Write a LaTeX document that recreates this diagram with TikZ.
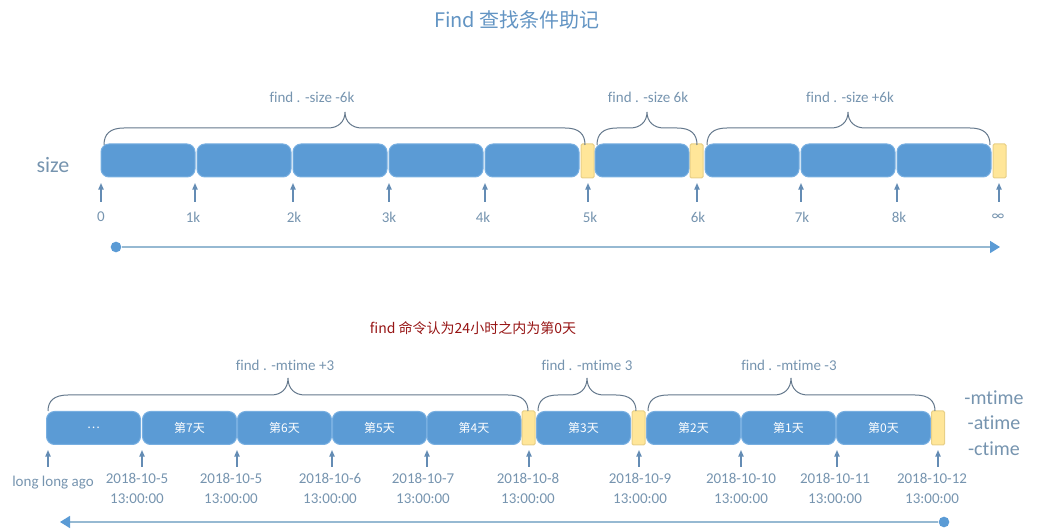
\documentclass[tikz,border=0pt]{standalone}
\usepackage{fontspec}
\setmainfont{Carlito}[Ligatures={TeX,NoCommon}]
\newfontfamily\cjk{Noto Sans CJK SC}
\usetikzlibrary{arrows.meta}

\definecolor{boxblue}{RGB}{91,155,213}
\definecolor{boxedge}{RGB}{120,175,225}
\definecolor{ylwfill}{RGB}{255,230,153}
\definecolor{ylwedge}{RGB}{232,208,135}
\definecolor{lblgray}{RGB}{118,148,175}
\definecolor{ttlblue}{RGB}{98,148,195}
\definecolor{tickblue}{RGB}{100,140,180}
\definecolor{brcgray}{RGB}{100,120,140}
\definecolor{axisblue}{RGB}{150,185,210}
\definecolor{notered}{RGB}{150,20,20}

\tikzset{every picture/.style={line width=0.75pt}}

\begin{document}
\begin{tikzpicture}[x=0.75pt,y=0.75pt,yscale=-1,xscale=1,
  bbox/.style={draw=boxedge,fill=boxblue,rounded corners=6pt,minimum width=70.5pt,minimum height=24.75pt,inner sep=0pt,text=white,font=\cjk\fontsize{9}{10}\selectfont},
  ybox/.style={draw=ylwedge,fill=ylwfill,rounded corners=1pt,minimum width=9.75pt,minimum height=25.5pt,inner sep=0pt},
  lbl/.style={text=lblgray,inner sep=0.75pt,font=\fontsize{11.25}{15}\selectfont},
  tick/.style={draw=tickblue,line width=1pt,-{Triangle[length=5pt,width=4pt]}},
  brc/.style={draw=brcgray,line width=0.75pt},
  axis/.style={draw=axisblue,line width=1.2pt},
  dotst/.style={circle,fill=boxblue,inner sep=0pt,minimum size=8pt}]
\useasboundingbox (0,0) rectangle (1039,530);

% Text Node
\node (ttl) [text=ttlblue,font=\cjk\fontsize{15}{18}\selectfont] at (517,20) {Find 查找条件助记};

%Rounded Rect: size row
\node (b1) [bbox] at (148,160.5) {};
\node (b2) [bbox] at (244,160.5) {};
\node (b3) [bbox] at (340,160.5) {};
\node (b4) [bbox] at (436,160.5) {};
\node (b5) [bbox] at (532,160.5) {};
\node (y1) [ybox] at (587.5,161) {};
\node (b6) [bbox] at (642,160.5) {};
\node (y2) [ybox] at (696.5,161) {};
\node (b7) [bbox] at (752,160.5) {};
\node (b8) [bbox] at (848,160.5) {};
\node (b9) [bbox] at (944,160.5) {};
\node (y3) [ybox] at (999.5,161) {};

% Text Node
\node (size) [lbl,font=\fontsize{16.5}{18}\selectfont] at (53,165) {size};

%Shape: Free Drawing
\draw [brc] (104,145) .. controls (104,134) and (110,128) .. (124,128) -- (328,128) .. controls (338,128) and (345,122) .. (345,112) .. controls (345,122) and (352,128) .. (362,128) -- (565,128) .. controls (579,128) and (585,134) .. (585,145) ;
%Shape: Free Drawing
\draw [brc] (597,145) .. controls (597,134) and (603,128) .. (617,128) -- (630,128) .. controls (640,128) and (647,122) .. (647,112) .. controls (647,122) and (654,128) .. (664,128) -- (677,128) .. controls (691,128) and (697,134) .. (697,145) ;
%Shape: Free Drawing
\draw [brc] (707,145) .. controls (707,134) and (713,128) .. (727,128) -- (831,128) .. controls (841,128) and (848,122) .. (848,112) .. controls (848,122) and (855,128) .. (865,128) -- (970,128) .. controls (984,128) and (990,134) .. (990,145) ;

% Text Node
\node (qs1) [lbl] at (312,97) {find . -size -6k};
% Text Node
\node (qs2) [lbl] at (648,97) {find . -size 6k};
% Text Node
\node (qs3) [lbl] at (850,97) {find . -size +6k};

%Straight Lines
\draw [tick] (101,202) -- (101,183) ;
\draw [tick] (195,202) -- (195,183) ;
\draw [tick] (293,202) -- (293,183) ;
\draw [tick] (389,202) -- (389,183) ;
\draw [tick] (485,202) -- (485,183) ;
\draw [tick] (588,202) -- (588,183) ;
\draw [tick] (697,202) -- (697,183) ;
\draw [tick] (801,202) -- (801,183) ;
\draw [tick] (897,202) -- (897,183) ;
\draw [tick] (999,202) -- (999,183) ;

% Text Node
\node (s0) [lbl] at (101,217) {0};
\node (s1) [lbl] at (193,217) {1k};
\node (s2) [lbl] at (294,217) {2k};
\node (s3) [lbl] at (389,217) {3k};
\node (s4) [lbl] at (483,217) {4k};
\node (s5) [lbl] at (590,217) {5k};
\node (s6) [lbl] at (698,217) {6k};
\node (s7) [lbl] at (802,217) {7k};
\node (s8) [lbl] at (899,217) {8k};
\node (sinf) [lbl] at (998,217) {∞};

%Straight Lines: size axis
\node (dot1) [dotst] at (116,247) {};
\coordinate (end1) at (1000,247);
\draw [axis,-{Triangle[length=7.5pt,width=9pt,color=boxblue]}] (dot1) -- (end1) ;

% Text Node
\node (note) [text=notered,font=\cjk\fontsize{10.5}{12}\selectfont] at (473,328) {find 命令认为24小时之内为第0天};

%Rounded Rect: time row
\node (d1) [bbox] at (93.5,428) {…};
\node (d2) [bbox] at (189.5,428) {第7天};
\node (d3) [bbox] at (284.5,428) {第6天};
\node (d4) [bbox] at (379.5,428) {第5天};
\node (d5) [bbox] at (474,428) {第4天};
\node (z1) [ybox] at (528.5,428) {};
\node (d6) [bbox] at (583.5,428) {第3天};
\node (z2) [ybox] at (638.5,428) {};
\node (d7) [bbox] at (693.5,428) {第2天};
\node (d8) [bbox] at (788.5,428) {第1天};
\node (d9) [bbox] at (883.5,428) {第0天};
\node (z3) [ybox] at (938,428) {};

%Shape: Free Drawing
\draw [brc] (48,411) .. controls (48,401) and (54,395) .. (68,395) -- (271,395) .. controls (281,395) and (288,389) .. (288,378) .. controls (288,389) and (295,395) .. (305,395) -- (508,395) .. controls (522,395) and (528,401) .. (528,411) ;
%Shape: Free Drawing
\draw [brc] (538,411) .. controls (538,401) and (544,395) .. (558,395) -- (570,395) .. controls (580,395) and (587,389) .. (587,378) .. controls (587,389) and (594,395) .. (604,395) -- (616,395) .. controls (630,395) and (636,401) .. (636,411) ;
%Shape: Free Drawing
\draw [brc] (648,411) .. controls (648,401) and (654,395) .. (668,395) -- (774,395) .. controls (784,395) and (791,389) .. (791,378) .. controls (791,389) and (798,395) .. (808,395) -- (915,395) .. controls (929,395) and (935,401) .. (935,411) ;

% Text Node
\node (qt1) [lbl] at (285,365) {find . -mtime +3};
% Text Node
\node (qt2) [lbl] at (587,365) {find . -mtime 3};
% Text Node
\node (qt3) [lbl] at (789,365) {find . -mtime -3};

% Text Node
\node (mt) [lbl,font=\fontsize{15}{18}\selectfont] at (994,398) {-mtime};
\node (at) [lbl,font=\fontsize{15}{18}\selectfont] at (994,423) {-atime};
\node (ct) [lbl,font=\fontsize{15}{18}\selectfont] at (994,449) {-ctime};

%Straight Lines
\draw [tick] (48,467) -- (48,450) ;
\draw [tick] (142,467) -- (142,450) ;
\draw [tick] (237,467) -- (237,450) ;
\draw [tick] (332,467) -- (332,450) ;
\draw [tick] (427,467) -- (427,450) ;
\draw [tick] (529,467) -- (529,450) ;
\draw [tick] (639,467) -- (639,450) ;
\draw [tick] (741,467) -- (741,450) ;
\draw [tick] (837,467) -- (837,450) ;
\draw [tick] (938,467) -- (938,450) ;

% Text Node
\node (ago) [lbl] at (53,483) {long long ago};
\node (t5a) [lbl,align=center] at (137,488) {2018-10-5\\13:00:00};
\node (t5b) [lbl,align=center] at (231,488) {2018-10-5\\13:00:00};
\node (t6) [lbl,align=center] at (330,488) {2018-10-6\\13:00:00};
\node (t7) [lbl,align=center] at (423,488) {2018-10-7\\13:00:00};
\node (t8) [lbl,align=center] at (528,488) {2018-10-8\\13:00:00};
\node (t9) [lbl,align=center] at (640,488) {2018-10-9\\13:00:00};
\node (t10) [lbl,align=center] at (741,488) {2018-10-10\\13:00:00};
\node (t11) [lbl,align=center] at (835,488) {2018-10-11\\13:00:00};
\node (t12) [lbl,align=center] at (932,488) {2018-10-12\\13:00:00};

%Straight Lines: time axis
\node (dot2) [dotst] at (944,522) {};
\coordinate (end2) at (60,522);
\draw [axis,-{Triangle[length=7.5pt,width=9pt,color=boxblue]}] (dot2) -- (end2) ;

\end{tikzpicture}
\end{document}
